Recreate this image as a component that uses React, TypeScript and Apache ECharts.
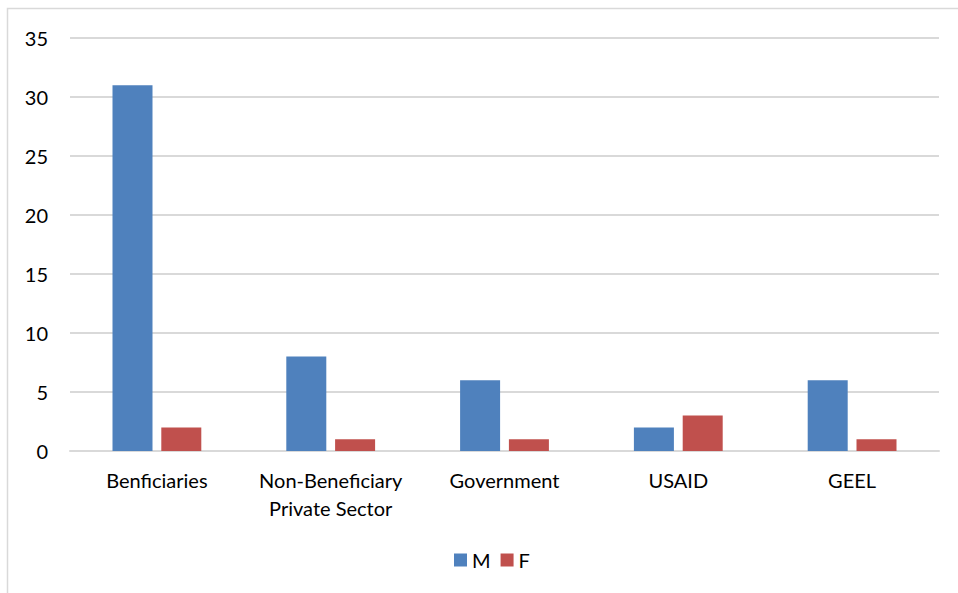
import React, { useEffect, useRef } from "react";
import * as echarts from "echarts";

const categories = ["Benficiaries", "Non-Beneficiary\nPrivate Sector", "Government", "USAID", "GEEL"];
const maleValues = [31, 8, 6, 2, 6];
const femaleValues = [2, 1, 1, 3, 1];
const seriesNames = ["M", "F"];

const FONT = "'Lato', 'Open Sans', sans-serif";

export default function App() {
  const ref = useRef<HTMLDivElement>(null);
  useEffect(() => {
    if (!ref.current) return;
    const chart = echarts.init(ref.current, undefined, { renderer: "svg" });
    chart.setOption({
      animation: false,
      backgroundColor: "#ffffff",
      graphic: [
        {
          type: "rect",
          shape: { x: 7.5, y: 8.5, width: 1000, height: 1000 },
          style: { fill: "none", stroke: "#d9d9d9", lineWidth: 1.5 },
          silent: true,
        },
      ],
      grid: { left: 70, right: 19, top: 38, bottom: 142, containLabel: false },
      legend: {
        data: seriesNames,
        top: 545,
        left: 449,
        itemWidth: 13,
        itemHeight: 13,
        itemGap: 10,
        icon: "rect",
        textStyle: { color: "#000", fontSize: 20, fontFamily: FONT },
      },
      xAxis: {
        type: "category",
        data: categories,
        axisLine: { show: true, lineStyle: { color: "#d9d9d9", width: 2 } },
        axisTick: { show: false },
        axisLabel: {
          color: "#000",
          fontSize: 20,
          fontFamily: FONT,
          margin: 15,
          lineHeight: 28,
          interval: 0,
        },
      },
      yAxis: {
        type: "value",
        min: 0,
        max: 35,
        interval: 5,
        axisLine: { show: false },
        axisTick: { show: false },
        splitLine: { lineStyle: { color: "#d9d9d9", width: 2 } },
        axisLabel: { color: "#000", fontSize: 20, fontFamily: FONT, margin: 22 },
      },
      series: [
        {
          name: seriesNames[0],
          type: "bar",
          data: maleValues,
          barWidth: 40,
          barGap: "22%",
          itemStyle: { color: "#4F81BD" },
        },
        {
          name: seriesNames[1],
          type: "bar",
          data: femaleValues,
          barWidth: 40,
          barGap: "22%",
          itemStyle: { color: "#C0504D" },
        },
      ],
    });
    return () => chart.dispose();
  }, []);
  return (
    <div
      ref={ref}
      style={{ position: "fixed", left: 0, top: 0, width: 958, height: 593 }}
    />
  );
}
